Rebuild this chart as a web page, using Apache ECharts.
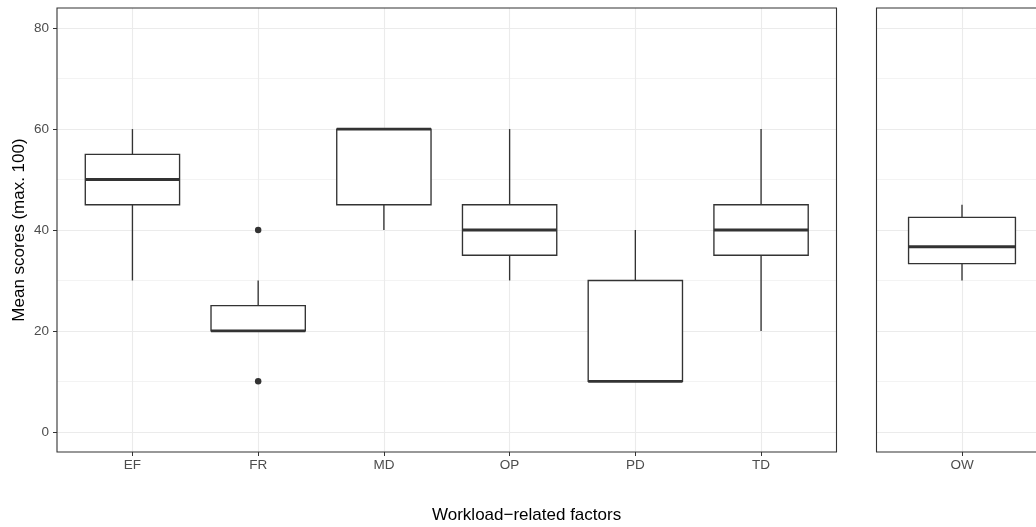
<!DOCTYPE html>
<html>
<head>
<meta charset="utf-8">
<script src="https://cdn.jsdelivr.net/npm/echarts@6/dist/echarts.min.js"></script>
<style>
html,body{margin:0;padding:0;background:#fff;}
#chart{width:1036px;height:527px;}
</style>
</head>
<body>
<div id="chart"></div>
<script>
// ---- data ----
const categories = ['EF', 'FR', 'MD', 'OP', 'PD', 'TD'];
const whiskerLow = [30, 20, 40, 30, 10, 20];
const q1 = [45, 20, 45, 35, 10, 35];
const median = [50, 20, 60, 40, 10, 40];
const q3 = [55, 25, 60, 45, 30, 45];
const whiskerHigh = [60, 30, 60, 60, 40, 60];
const outlierCategory = ['FR', 'FR'];
const outlierValue = [40, 10];

const categories2 = ['OW'];
const whiskerLow2 = [30];
const q1_2 = [33.33];
const median2 = [36.67];
const q3_2 = [42.5];
const whiskerHigh2 = [45];

const yTicks = [0, 20, 40, 60, 80];
const yMinor = [10, 30, 50, 70];

// ---- build ----
function boxData(cats, lo, a, m, b, hi) {
  return cats.map((c, i) => [i + 1, lo[i], a[i], m[i], b[i], hi[i]]);
}
const HALF = 0.375;
const INK = '#333333';
function renderBox(params, api) {
  const x = api.value(0);
  const lo = api.value(1), a = api.value(2), m = api.value(3), b = api.value(4), hi = api.value(5);
  const tl = api.coord([x - HALF, b]);
  const br = api.coord([x + HALF, a]);
  const top = api.coord([x, b]), topW = api.coord([x, hi]);
  const bot = api.coord([x, a]), botW = api.coord([x, lo]);
  const ml = api.coord([x - HALF, m]), mr = api.coord([x + HALF, m]);
  const lineStyle = { stroke: INK, lineWidth: 1.35, fill: null };
  return {
    type: 'group',
    children: [
      { type: 'line', shape: { x1: top[0], y1: top[1], x2: topW[0], y2: topW[1] }, style: lineStyle },
      { type: 'line', shape: { x1: bot[0], y1: bot[1], x2: botW[0], y2: botW[1] }, style: lineStyle },
      { type: 'rect', shape: { x: tl[0], y: tl[1], width: br[0] - tl[0], height: br[1] - tl[1] },
        style: { fill: '#ffffff', stroke: INK, lineWidth: 1.35 } },
      { type: 'line', shape: { x1: ml[0], y1: ml[1], x2: mr[0], y2: mr[1] },
        style: { stroke: INK, lineWidth: 2.9 } }
    ]
  };
}

const FONT = 'Liberation Sans, Arial, Helvetica, sans-serif';
const gridLine = { show: true, lineStyle: { color: '#EBEBEB', width: 1.1 } };
const minorLine = { show: true, lineStyle: { color: '#EBEBEB', width: 0.6 } };

function xAxisFor(gi, cats) {
  const vals = cats.map((c, i) => i + 1);
  return {
    type: 'value', gridIndex: gi, min: 0.4, max: cats.length + 0.6, position: 'bottom',
    axisLine: { show: false, onZero: false },
    axisTick: { show: true, length: 4, customValues: vals, lineStyle: { color: INK, width: 1 } },
    axisLabel: { show: true, customValues: vals, margin: 6, color: '#4D4D4D', fontSize: 13.5, fontFamily: FONT,
      formatter: v => cats[Math.round(v) - 1] || '' },
    splitLine: gridLine
  };
}
function yAxisFor(gi, showLabels) {
  return {
    type: 'value', gridIndex: gi, min: -4, max: 84, position: 'left',
    axisLine: { show: false, onZero: false },
    axisTick: { show: showLabels, length: 4, customValues: yTicks, lineStyle: { color: INK, width: 1 } },
    axisLabel: { show: showLabels, customValues: yTicks, margin: 8, color: '#4D4D4D', fontSize: 13.5, fontFamily: FONT },
    splitLine: gridLine
  };
}
function yMinorAxisFor(gi) {
  return {
    type: 'value', gridIndex: gi, min: -4, max: 84, position: 'left',
    axisLine: { show: false, onZero: false },
    axisTick: { show: false, customValues: yMinor },
    axisLabel: { show: false, customValues: yMinor },
    splitLine: minorLine
  };
}

const option = {
  animation: false,
  backgroundColor: '#ffffff',
  grid: [
    { left: 57, top: 8, width: 779.5, height: 444, outerBoundsMode: 'none', containLabel: false,
      show: true, borderColor: INK, borderWidth: 1.1, backgroundColor: 'transparent', z: 10 },
    { left: 876.5, top: 8, width: 171, height: 444, outerBoundsMode: 'none', containLabel: false,
      show: true, borderColor: INK, borderWidth: 1.1, backgroundColor: 'transparent', z: 10 }
  ],
  xAxis: [xAxisFor(0, categories), xAxisFor(1, categories2)],
  yAxis: [yMinorAxisFor(0), yAxisFor(0, true), yMinorAxisFor(1), yAxisFor(1, false)],
  series: [
    {
      type: 'custom', xAxisIndex: 0, yAxisIndex: 1, z: 5,
      renderItem: renderBox,
      encode: { x: 0, y: [1, 2, 3, 4, 5] },
      data: boxData(categories, whiskerLow, q1, median, q3, whiskerHigh)
    },
    {
      type: 'scatter', xAxisIndex: 0, yAxisIndex: 1, z: 6,
      symbol: 'circle', symbolSize: 6.5,
      itemStyle: { color: INK, opacity: 1 },
      data: outlierCategory.map((c, i) => [categories.indexOf(c) + 1, outlierValue[i]])
    },
    {
      type: 'custom', xAxisIndex: 1, yAxisIndex: 3, z: 5,
      renderItem: renderBox,
      encode: { x: 0, y: [1, 2, 3, 4, 5] },
      data: boxData(categories2, whiskerLow2, q1_2, median2, q3_2, whiskerHigh2)
    }
  ],
  graphic: [
    { type: 'text', x: 432, y: 515, z: 100,
      style: { text: 'Workload−related factors', fill: '#000', font: '17px ' + FONT, textAlign: 'left', textVerticalAlign: 'middle' } },
    { type: 'text', x: 19, y: 230, rotation: Math.PI / 2, z: 100,
      style: { text: 'Mean scores (max. 100)', fill: '#000', font: '17px ' + FONT, textAlign: 'center', textVerticalAlign: 'middle' } }
  ]
};

const chart = echarts.init(document.getElementById('chart'), null, { renderer: 'canvas' });
chart.setOption(option);
</script>
</body>
</html>
